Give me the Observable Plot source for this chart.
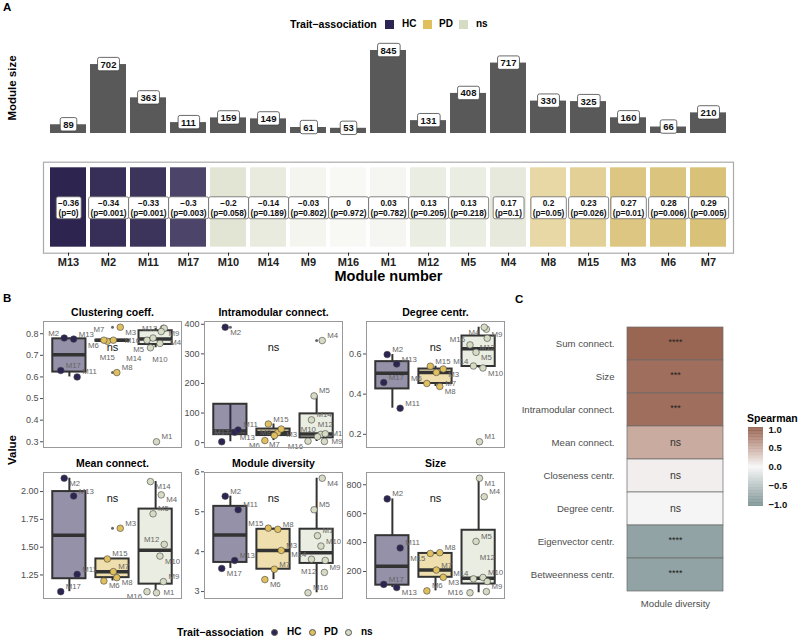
<!DOCTYPE html>
<html><head><meta charset="utf-8">
<script src="https://cdn.jsdelivr.net/npm/d3@7"></script>
<script src="https://cdn.jsdelivr.net/npm/@observablehq/plot@0.6"></script>
<style>
body{margin:0;background:#fff;font-family:"Liberation Sans",Arial,Helvetica,sans-serif;}
#root{position:relative;width:799px;height:637px;overflow:hidden;background:#fff;}
.lbl{position:absolute;white-space:nowrap;line-height:1;color:#000;}
</style></head><body><div id="root"></div>
<script>
// ---------------- data ----------------
const modules     = ["M13","M2","M11","M17","M10","M14","M9","M16","M1","M12","M5","M4","M8","M15","M3","M6","M7"];
const moduleSize  = [89,702,363,111,159,149,61,53,845,131,408,717,330,325,160,66,210];
const traitCorr   = [-0.36,-0.34,-0.33,-0.3,-0.2,-0.14,-0.03,0,0.03,0.13,0.13,0.17,0.2,0.23,0.27,0.28,0.29];
const traitP      = [0,0.001,0.001,0.003,0.058,0.189,0.802,0.972,0.782,0.205,0.218,0.1,0.05,0.026,0.01,0.006,0.005];
const traitAssoc  = ["HC","HC","HC","HC","ns","ns","ns","ns","ns","ns","ns","ns","PD","PD","PD","PD","PD"];
const groups      = ["HC","PD","ns"];

// panel B metrics (same module order as above)
const clusteringCoeff = [0.775,0.78,0.60,0.63,0.755,0.735,0.825,0.77,0.30,0.825,0.78,0.81,0.62,0.765,0.83,0.77,0.77];
const intraConnect    = [35,390,43,3,28,77,4,5,20,30,158,345,34,63,46,7,24];
const degreeCentr     = [0.55,0.597,0.33,0.458,0.53,0.54,0.723,0.645,0.163,0.678,0.608,0.733,0.438,0.539,0.525,0.453,0.508];
const meanConnect     = [1.96,2.12,1.255,1.10,1.42,2.09,1.19,1.10,1.09,1.525,1.80,1.97,1.226,1.394,1.67,1.196,1.28];
const moduleDiversity = [3.78,5.39,5.05,3.58,4.14,3.81,3.48,2.97,4.40,3.78,5.05,5.84,4.56,4.59,4.03,3.30,3.56];

const clusteringTicks = [0.3,0.4,0.5,0.6,0.7,0.8];
const intraTicks      = [0,100,200,300,400];
const degreeTicks     = [0.2,0.4,0.6];
const meanTicks       = [1.25,1.5,1.75,2.0];
const diversityTicks  = [3,4,5,6];
const sizeTicks       = [200,400,600,800];

// panel C
const cMetrics = ["Sum connect.","Size","Intramodular connect.","Mean connect.","Closeness centr.","Degree centr.","Eigenvector centr.","Betweenness centr."];
const cRho     = [0.88,0.83,0.83,0.45,0.05,0.01,-0.75,-0.75];
const cSig     = ["****","***","***","ns","ns","ns","****","****"];
const legendTicks = [-1,-0.5,0,0.5,1];

// ---------------- styles ----------------
const FONT = '"Liberation Sans", Arial, Helvetica, sans-serif';
const groupColors = ["#2c2452","#e0bf5e","#d6dbc4"];
const heatDomain = [-0.36,-0.3,-0.2,0,0.17,0.2,0.29];
const heatRange  = ["#2d2550","#4d4469","#e2e5d4","#f8f8f5","#e6e9dc","#e8d8a5","#d9c178"];
const spearColors = ["#71898a","#f7f7f7","#8c5440"];
const JIT = [0.1,-0.12,0.18,-0.2,0.02,0.2,-0.06,0.13];

const root = document.getElementById("root");
function place(el, x, y){ el.style.position="absolute"; el.style.left=x+"px"; el.style.top=y+"px"; root.appendChild(el); return el; }
function addText(txt, x, y, o={}){
  const d=document.createElement("div"); d.className="lbl"; d.textContent=txt;
  d.style.fontSize=(o.size||11)+"px"; d.style.fontWeight=o.weight||"bold"; d.style.color=o.color||"#000";
  d.style.left=x+"px"; d.style.top=y+"px";
  const tx = o.anchor==="middle"?"-50%":o.anchor==="end"?"-100%":"0";
  d.style.transform = o.rotate ? `translate(-50%,-50%) rotate(${o.rotate}deg)` : `translate(${tx},-50%)`;
  root.appendChild(d); return d;
}
function addSwatch(x, y, w, h, color, round){
  const d=document.createElement("div");
  Object.assign(d.style,{position:"absolute",left:x+"px",top:y+"px",width:w+"px",height:h+"px",background:color,borderRadius:round?"50%":"0",boxSizing:"border-box",border:round?"0.6px solid #555":"none"});
  root.appendChild(d);
}
function boxLabels(svg, aria, padX, padY, stroke){
  svg.querySelectorAll(`[aria-label="${aria}"]`).forEach(el=>{
    const texts = el.tagName.toLowerCase()==="text" ? [el] : Array.from(el.querySelectorAll("text"));
    texts.forEach(t=>{
      const bb=t.getBBox();
      const r=document.createElementNS("http://www.w3.org/2000/svg","rect");
      r.setAttribute("x",bb.x-padX); r.setAttribute("y",bb.y-padY);
      r.setAttribute("width",bb.width+2*padX); r.setAttribute("height",bb.height+2*padY);
      r.setAttribute("rx",2); r.setAttribute("fill","white"); r.setAttribute("stroke",stroke); r.setAttribute("stroke-width",0.8);
      const tr=t.getAttribute("transform"); if(tr) r.setAttribute("transform",tr);
      t.parentNode.insertBefore(r,t);
    });
  });
}
const fmtSigned = v => (v<0?"\u2212":"") + String(Math.abs(v));

const modData = modules.map((m,i)=>({module:m, size:moduleSize[i], r:traitCorr[i], p:traitP[i], group:traitAssoc[i]}));

// ---------------- Panel A: bars ----------------
const bars = Plot.plot({
  width:799, height:140, marginLeft:47, marginRight:70, marginTop:50, marginBottom:7,
  style:{background:"transparent", overflow:"visible", fontFamily:FONT},
  x:{type:"band", domain:modules, paddingInner:0.1, paddingOuter:0.05, axis:null},
  y:{domain:[0,845], axis:null},
  marks:[
    Plot.barY(modData,{x:"module", y:"size", fill:"#595959"}),
    Plot.text(modData,{x:"module", y:"size", text:d=>String(d.size), fontSize:9.5, fontWeight:"bold", fill:"#111", ariaLabel:()=>"barlab"})
  ]
});
place(bars,0,0);
boxLabels(bars,"barlab",3,1.2,"#444");

// ---------------- Panel A: heat row ----------------
const heat = Plot.plot({
  width:799, height:132, marginLeft:43, marginRight:66, marginTop:11.7, marginBottom:29.3,
  style:{background:"transparent", overflow:"visible", fontFamily:FONT},
  x:{type:"band", domain:modules, paddingInner:0.1, paddingOuter:0.05, insetLeft:4, insetRight:4, axis:null},
  color:{type:"linear", domain:heatDomain, range:heatRange},
  marks:[
    Plot.cell(modData,{x:"module", fill:"r", insetTop:5.6, insetBottom:6}),
    Plot.frame({stroke:"#aaa", strokeWidth:1.2}),
    Plot.text(modData,{x:"module", frameAnchor:"middle", text:d=>fmtSigned(d.r)+"\n(p="+d.p+")", fontSize:8.3, fontWeight:"bold", lineHeight:1.15, fill:"#111", ariaLabel:()=>"heatlab"}),
    Plot.axisX({tickSize:3, tickPadding:2, fontSize:11, fontWeight:"bold", color:"#222", label:null}),
    Plot.text(["Module number"],{frameAnchor:"bottom", lineAnchor:"middle", dy:23, text:d=>d, fontSize:14.5, fontWeight:"bold"})
  ]
});
place(heat,0,150);
boxLabels(heat,"heatlab",1.8,1.2,"#666");

// ---------------- Panel B: facets ----------------
const facets = [
  {title:"Clustering coeff.",      values:clusteringCoeff, ticks:clusteringTicks, fmt:d=>d.toFixed(1)},
  {title:"Intramodular connect.",  values:intraConnect,    ticks:intraTicks,      fmt:d=>String(d)},
  {title:"Degree centr.",          values:degreeCentr,     ticks:degreeTicks,     fmt:d=>d.toFixed(1)},
  {title:"Mean connect.",          values:meanConnect,     ticks:meanTicks,       fmt:d=>d.toFixed(2)},
  {title:"Module diversity",       values:moduleDiversity, ticks:diversityTicks,  fmt:d=>String(d)},
  {title:"Size",                   values:moduleSize,      ticks:sizeTicks,       fmt:d=>String(d)}
];
const frameLefts=[43,204,366], frameTops=[321,472], FW=138, FH=126;
const LFS = 7.8;
const CANDS = [[5,-5,"start"],[5,5,"start"],[-5,-5,"end"],[-5,5,"end"],[0,-9,"middle"],[0,9,"middle"],
               [7,0,"start"],[-7,0,"end"],[9,-11,"start"],[-9,-11,"end"],[9,11,"start"],[-9,11,"end"],
               [14,-3,"start"],[-14,-3,"end"],[0,-16,"middle"],[0,16,"middle"],
               [20,0,"start"],[-20,0,"end"],[16,-14,"start"],[-16,-14,"end"],[16,14,"start"],[-16,14,"end"],
               [26,-6,"start"],[-26,-6,"end"],[0,-24,"middle"],[24,-20,"start"],[-24,-20,"end"]];
function overlap(a,b){ const w=Math.min(a[2],b[2])-Math.max(a[0],b[0]), h=Math.min(a[3],b[3])-Math.max(a[1],b[1]); return (w>0&&h>0)?w*h:0; }

facets.forEach((f,fi)=>{
  const pts = modules.map((m,i)=>({module:m, group:traitAssoc[i], value:f.values[i]}));
  const cnt={HC:0,PD:0,ns:0};
  pts.forEach(p=>{ p.k=cnt[p.group]++; p.gi=groups.indexOf(p.group); p.x=p.gi+JIT[p.k%JIT.length]; });
  const stats = groups.map((g,gi)=>{
    const v=pts.filter(p=>p.group===g).map(p=>p.value).sort(d3.ascending);
    const q1=d3.quantile(v,0.25), q2=d3.quantile(v,0.5), q3=d3.quantile(v,0.75), iqr=q3-q1;
    const lo=d3.min(v.filter(x=>x>=q1-1.5*iqr)), hi=d3.max(v.filter(x=>x<=q3+1.5*iqr));
    return {group:g, i:gi, q1,q2,q3,lo,hi, out:v.filter(x=>x<lo||x>hi)};
  });
  const outliers = stats.flatMap(s=>s.out.map(v=>({i:s.i, value:v})));
  const [mn,mx]=d3.extent(f.values), pad=(mx-mn)*0.05;
  const X0=-0.6, X1=2.6, Y0=mn-pad, Y1=mx+pad;
  // simple label placement (repel) in pixel space of the frame
  const px=v=>(v-X0)/(X1-X0)*FW, py=v=>(1-(v-Y0)/(Y1-Y0))*FH;
  const ix=p=>X0+p/FW*(X1-X0), iy=p=>Y0+(1-p/FH)*(Y1-Y0);
  const obstacles = pts.map(p=>[px(p.x)-3.6,py(p.value)-3.6,px(p.x)+3.6,py(p.value)+3.6]);
  obstacles.push([px(1)-8,20,px(1)+8,32]);
  const placed=[];
  pts.slice().sort((a,b)=>b.value-a.value).forEach(p=>{
    const w=p.module.length*LFS*0.62, h=7.5, X=px(p.x), Y=py(p.value);
    let best=null, bestScore=Infinity;
    CANDS.forEach((c,ci)=>{
      const cx=X+c[0], cy=Y+c[1];
      const bx = c[2]==="start"?[cx,cx+w]:c[2]==="end"?[cx-w,cx]:[cx-w/2,cx+w/2];
      const box=[bx[0],cy-h/2,bx[1],cy+h/2];
      let s=ci*0.4;
      placed.forEach(b=>s+=overlap(box,b)*8);
      obstacles.forEach(b=>s+=overlap(box,b)*2);
      if(box[0]<1) s+=(1-box[0])*10; if(box[2]>FW-1) s+=(box[2]-FW+1)*10;
      if(box[1]<1) s+=(1-box[1])*10; if(box[3]>FH+2) s+=(box[3]-FH-2)*6;
      if(s<bestScore){bestScore=s; best={box,cx,cy,anchor:c[2]};}
    });
    placed.push(best.box);
    p.lx=ix(best.cx); p.ly=iy(best.cy); p.anchor=best.anchor;
  });
  const col=fi%3, row=Math.floor(fi/3);
  const labelMark = a => Plot.text(pts.filter(p=>p.anchor===a),{x:"lx", y:"ly", text:"module", textAnchor:a, lineAnchor:"middle", fill:"#666", fontSize:LFS});
  const svg = Plot.plot({
    width:FW+46, height:FH+30, marginLeft:42, marginRight:4, marginTop:24, marginBottom:6,
    style:{background:"transparent", overflow:"visible", fontFamily:FONT},
    x:{domain:[X0,X1], axis:null},
    y:{domain:[Y0,Y1], axis:null},
    color:{domain:groups, range:groupColors},
    marks:[
      Plot.axisY({ticks:f.ticks, tickFormat:f.fmt, tickSize:3, tickPadding:2, fontSize:9, color:"#4d4d4d", label:null}),
      Plot.ruleX(stats,{x:"i", y1:"lo", y2:"q1", stroke:"#333", strokeWidth:2}),
      Plot.ruleX(stats,{x:"i", y1:"q3", y2:"hi", stroke:"#333", strokeWidth:2}),
      Plot.rect(stats,{x1:d=>d.i-0.385, x2:d=>d.i+0.385, y1:"q1", y2:"q3", fill:"group", fillOpacity:0.5, stroke:"#333", strokeWidth:2}),
      Plot.ruleY(stats,{y:"q2", x1:d=>d.i-0.385, x2:d=>d.i+0.385, stroke:"#333", strokeWidth:3.5}),
      Plot.dot(outliers,{x:"i", y:"value", r:1.5, fill:"#666"}),
      Plot.dot(pts,{x:"x", y:"value", fill:"group", r:3.3, stroke:"#444", strokeWidth:0.6}),
      labelMark("start"), labelMark("end"), labelMark("middle"),
      Plot.text(["ns"],{x:()=>1, frameAnchor:"top", lineAnchor:"middle", dy:26, text:d=>d, fontSize:11, fill:"#111"}),
      Plot.frame({stroke:"#999", strokeWidth:1}),
      Plot.text([f.title],{frameAnchor:"top", lineAnchor:"middle", dy:-9, text:d=>d, fontSize:10.5, fontWeight:"bold"})
    ]
  });
  place(svg, frameLefts[col]-42, frameTops[row]-24);
});

// ---------------- Panel C ----------------
const cData = cMetrics.map((m,i)=>({metric:m, rho:cRho[i], sig:cSig[i], col:"Module diversity"}));
const spearScale = {type:"linear", domain:[-1,0,1], range:spearColors, interpolate:"lab"};
const pc = Plot.plot({
  width:240, height:310, marginLeft:127, marginRight:17, marginTop:14, marginBottom:26,
  style:{background:"transparent", overflow:"visible", fontFamily:FONT},
  x:{type:"band", domain:["Module diversity"], padding:0, axis:null},
  y:{type:"band", domain:cMetrics, padding:0, axis:null},
  color:spearScale,
  marks:[
    Plot.cell(cData,{x:"col", y:"metric", fill:"rho", stroke:"#6a6a6a", strokeWidth:0.7}),
    Plot.text(cData.filter(d=>d.sig!=="ns"),{x:"col", y:"metric", text:"sig", fontSize:9, fill:"#222", dy:-2}),
    Plot.text(cData.filter(d=>d.sig==="ns"),{x:"col", y:"metric", text:"sig", fontSize:10.5, fill:"#333"}),
    Plot.axisY({tickSize:0, tickPadding:13, fontSize:9.6, color:"#4d4d4d", label:null}),
    Plot.axisX({tickSize:0, tickPadding:6, fontSize:9.6, color:"#4d4d4d", label:null})
  ]
});
place(pc,500,310);

// Spearman colour bar (legend)
const barStops = d3.range(-1.04,1.041,0.02);
const cb = Plot.plot({
  width:54, height:95, marginLeft:3, marginRight:36, marginTop:9, marginBottom:11,
  style:{background:"transparent", overflow:"visible", fontFamily:FONT},
  x:{domain:[0,1], axis:null}, y:{domain:[-1,1], axis:null},
  color:spearScale,
  marks:[
    Plot.rect(barStops,{x1:0, x2:1, y1:d=>d-0.011, y2:d=>d+0.011, fill:d=>Math.max(-1,Math.min(1,d))}),
    Plot.axisY({anchor:"right", ticks:legendTicks, tickFormat:d=>(d<0?"\u2212":"")+Math.abs(d).toFixed(1), tickSize:0, tickPadding:5, fontSize:9.5, fontWeight:"bold", color:"#111", label:null})
  ]
});
place(cb,745,420);

// ---------------- HTML text: panel letters, legends, axis titles ----------------
addText("A",3,8,{size:11.5});
addText("B",3,299,{size:11.5});
addText("C",515,300,{size:11.5});
addText("Module size",13,88,{size:11.5,rotate:-90});
addText("Value",13,450,{size:11.5,rotate:-90});
addText("Spearman",747,418,{size:10.5});

// top legend
addText("Trait\u2212association",290,24,{size:10.6});
addSwatch(385,20,9,9,groupColors[0]); addText("HC",402,24,{size:10});
addSwatch(423,20,9,9,groupColors[1]); addText("PD",439,24,{size:10});
addSwatch(459,20,9,9,groupColors[2]); addText("ns",476,24,{size:10});

// bottom legend
addText("Trait\u2212association",177,632,{size:10.6});
addSwatch(271,629,7,7,groupColors[0],true); addText("HC",287,632,{size:10});
addSwatch(308.5,629,7,7,groupColors[1],true); addText("PD",324,632,{size:10});
addSwatch(345,629,7,7,groupColors[2],true); addText("ns",361,632,{size:10});
</script>
</body></html>
